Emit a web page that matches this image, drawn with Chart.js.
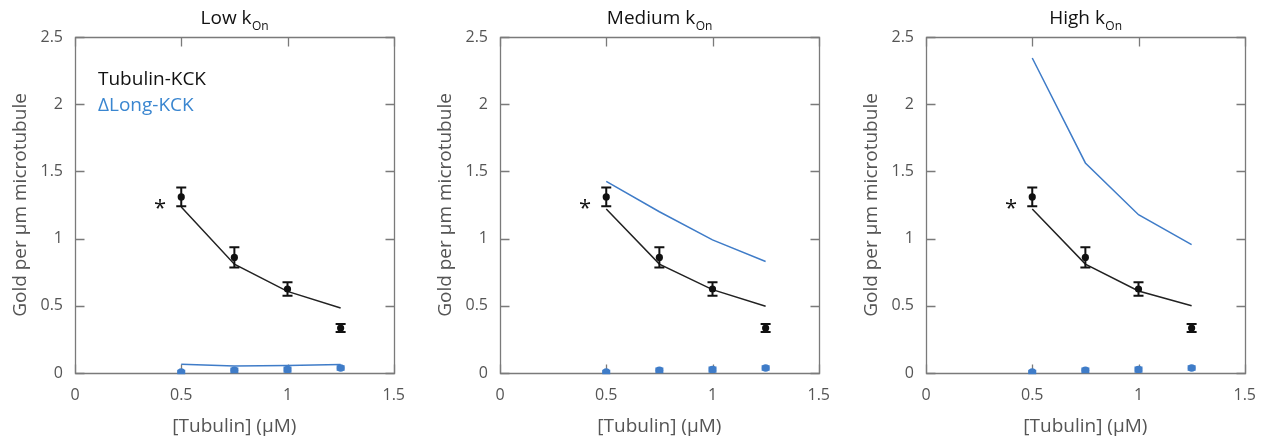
<!DOCTYPE html>
<html>
<head>
<meta charset="utf-8">
<script src="https://cdn.jsdelivr.net/npm/chart.js@4/dist/chart.umd.min.js"></script>
<style>
  html, body { margin: 0; padding: 0; background: #fff; }
  #wrap { position: relative; width: 1269px; height: 442px; overflow: hidden; }
  #wrap canvas { position: absolute; top: 0; }
</style>
</head>
<body>
<div id="wrap">
  <canvas id="c0" width="418" height="442" style="left:0px"></canvas>
  <canvas id="c1" width="418" height="442" style="left:425px"></canvas>
  <canvas id="c2" width="418" height="442" style="left:851px"></canvas>
</div>
<script>
// ---------- data ----------
const panelTitles = ['Low', 'Medium', 'High'];
const titleSub = 'On';
const xTicks = [0, 0.5, 1, 1.5];
const yTicks = [0, 0.5, 1, 1.5, 2, 2.5];
const xLabel = '[Tubulin] (\u00B5M)';
const yLabel = 'Gold per \u00B5m microtubule';
const seriesNames = ['Tubulin-KCK', '\u0394Long-KCK'];

const conc = [0.5, 0.75, 1.0, 1.25];
const kckMean = [1.31, 0.86, 0.625, 0.335];
const kckErr = [0.07, 0.075, 0.05, 0.03];
const dlongMean = [0.007, 0.02, 0.025, 0.037];
const dlongErr = [0.006, 0.01, 0.012, 0.01];

const kckModelLow = [1.235, 0.81, 0.607, 0.483];
const dlongModelLow = [0.065, 0.052, 0.055, 0.063];
const kckModelMed = [1.22, 0.81, 0.62, 0.496];
const dlongModelMed = [1.426, 1.20, 0.99, 0.83];
const kckModelHigh = [1.22, 0.81, 0.61, 0.50];
const dlongModelHigh = [2.344, 1.563, 1.178, 0.955];

const starMark = { x: 0.4, y: 1.27, text: '*' };

const kckModels = [kckModelLow, kckModelMed, kckModelHigh];
const dlongModels = [dlongModelLow, dlongModelMed, dlongModelHigh];

// ---------- style ----------
const FONT = "'Open Sans', 'Noto Sans', sans-serif";
const BLACK = '#111111';
const BLUE = '#3f7cc8';
const BLUE_TEXT = '#3a86d0';
const AXIS = '#7a7a7a';
const TEXTGRAY = '#555555';
Chart.defaults.font.family = FONT;

const pts = (xs, ys) => xs.map((x, i) => ({ x: x, y: ys[i] }));

const errorBarPlugin = {
  id: 'errorBars',
  afterDatasetsDraw(chart) {
    const ctx = chart.ctx;
    const xs = chart.scales.x, ys = chart.scales.y;
    chart.data.datasets.forEach(ds => {
      if (!ds.errors) return;
      ctx.save();
      ctx.strokeStyle = ds.backgroundColor;
      ctx.lineWidth = ds.errWidth;
      ds.data.forEach((p, i) => {
        const e = ds.errors[i];
        const px = xs.getPixelForValue(p.x);
        const y1 = ys.getPixelForValue(p.y + e);
        const y2 = ys.getPixelForValue(p.y - e);
        const hw = ds.capHalf;
        ctx.beginPath();
        ctx.moveTo(px, y1); ctx.lineTo(px, y2);
        ctx.moveTo(px - hw, y1); ctx.lineTo(px + hw, y1);
        ctx.moveTo(px - hw, y2); ctx.lineTo(px + hw, y2);
        ctx.stroke();
      });
      ctx.restore();
    });
  }
};

const frameParts = {
  id: 'frameParts',
  beforeDatasetsDraw(chart) {
    const ctx = chart.ctx;
    const a = chart.chartArea;
    const xs = chart.scales.x, ys = chart.scales.y;
    const L = Math.round(a.left) + 0.5, R = Math.round(a.right) + 0.5;
    const T = Math.round(a.top) + 0.5, B = Math.round(a.bottom) + 0.5;
    ctx.save();
    ctx.strokeStyle = AXIS;
    ctx.lineWidth = 1.3;
    ctx.beginPath();
    ctx.rect(L, T, R - L, B - T);
    ctx.stroke();
    // inward ticks
    const TL = 9;
    ctx.lineWidth = 1.3;
    for (const v of xTicks) {
      const px = Math.round(xs.getPixelForValue(v)) + 0.5;
      ctx.beginPath();
      ctx.moveTo(px, B); ctx.lineTo(px, B - TL);
      ctx.moveTo(px, T); ctx.lineTo(px, T + TL);
      ctx.stroke();
    }
    for (const v of yTicks) {
      const py = Math.round(ys.getPixelForValue(v)) + 0.5;
      ctx.beginPath();
      ctx.moveTo(L, py); ctx.lineTo(L + TL, py);
      ctx.moveTo(R, py); ctx.lineTo(R - TL, py);
      ctx.stroke();
    }
    ctx.restore();
  },
  afterDraw(chart, args, opts) {
    const ctx = chart.ctx;
    const a = chart.chartArea;
    const xs = chart.scales.x, ys = chart.scales.y;
    ctx.save();
    // title with subscript
    const main = opts.title + ' k';
    ctx.fillStyle = '#111';
    ctx.textBaseline = 'alphabetic';
    ctx.font = '19px ' + FONT;
    const w1 = ctx.measureText(main).width;
    ctx.font = '12px ' + FONT;
    const w2 = ctx.measureText(titleSub).width;
    const cx = (a.left + a.right) / 2;
    let x0 = cx - (w1 + w2) / 2;
    ctx.textAlign = 'left';
    ctx.font = '19px ' + FONT;
    ctx.fillText(main, x0, 24);
    ctx.font = '12px ' + FONT;
    ctx.fillText(titleSub, x0 + w1 + 0.5, 30);

    // asterisk
    ctx.font = '22px ' + FONT;
    ctx.textAlign = 'center';
    ctx.fillStyle = '#111';
    ctx.fillText(starMark.text, xs.getPixelForValue(starMark.x), ys.getPixelForValue(starMark.y) + 13);

    // legend text (first panel)
    if (opts.legend) {
      ctx.textAlign = 'left';
      ctx.textBaseline = 'middle';
      ctx.font = '19px ' + FONT;
      ctx.fillStyle = '#111';
      ctx.fillText(seriesNames[0], 98, 80);
      ctx.fillStyle = BLUE_TEXT;
      ctx.fillText(seriesNames[1], 98, 106);
    }
    ctx.restore();
  }
};

const fmt = v => String(Number(v.toFixed(2)));

function makePanel(idx) {
  const ctx = document.getElementById('c' + idx);
  return new Chart(ctx, {
    type: 'scatter',
    data: {
      datasets: [
        { label: 'kck model', data: pts(conc, kckModels[idx]), showLine: true,
          borderColor: '#222', borderWidth: 1.5, pointRadius: 0, fill: false, order: 3 },
        { label: 'dlong model', data: pts(conc, dlongModels[idx]), showLine: true,
          borderColor: BLUE, borderWidth: 1.5, pointRadius: 0, fill: false, order: 4 },
        { label: seriesNames[0], data: pts(conc, kckMean), showLine: false,
          backgroundColor: BLACK, borderColor: BLACK, pointRadius: 3.6, borderWidth: 0,
          errors: kckErr, errWidth: 2, capHalf: 5, order: 1 },
        { label: seriesNames[1], data: pts(conc, dlongMean), showLine: false,
          backgroundColor: BLUE, borderColor: BLUE, pointRadius: 3.8, borderWidth: 0,
          errors: dlongErr, errWidth: 3, capHalf: 4, order: 2 }
      ]
    },
    options: {
      responsive: false,
      animation: false,
      events: [],
      layout: { padding: { top: 37, right: 24, left: 0, bottom: 0 } },
      plugins: {
        legend: { display: false },
        tooltip: { enabled: false },
        frameParts: { title: panelTitles[idx], legend: idx === 0 }
      },
      scales: {
        x: {
          type: 'linear', min: 0, max: 1.5,
          afterBuildTicks: s => { s.ticks = xTicks.map(v => ({ value: v })); },
          afterFit: s => { s.height = 69; },
          grid: { display: false, drawTicks: false },
          border: { display: false },
          ticks: { color: TEXTGRAY, font: { size: 16 }, padding: 13, maxRotation: 0, callback: fmt },
          title: { display: true, text: xLabel, color: TEXTGRAY, font: { size: 19 },
                   padding: { top: 0, bottom: 4 } }
        },
        y: {
          type: 'linear', min: 0, max: 2.5,
          afterBuildTicks: s => { s.ticks = yTicks.map(v => ({ value: v })); },
          afterFit: s => { s.width = 75; },
          grid: { display: false, drawTicks: false },
          border: { display: false },
          ticks: { color: TEXTGRAY, font: { size: 16 }, padding: 12, callback: fmt },
          title: { display: true, text: yLabel, color: TEXTGRAY, font: { size: 19 },
                   padding: { top: 9, bottom: 0 } }
        }
      }
    },
    plugins: [errorBarPlugin, frameParts]
  });
}
[0, 1, 2].forEach(makePanel);
</script>
</body>
</html>
